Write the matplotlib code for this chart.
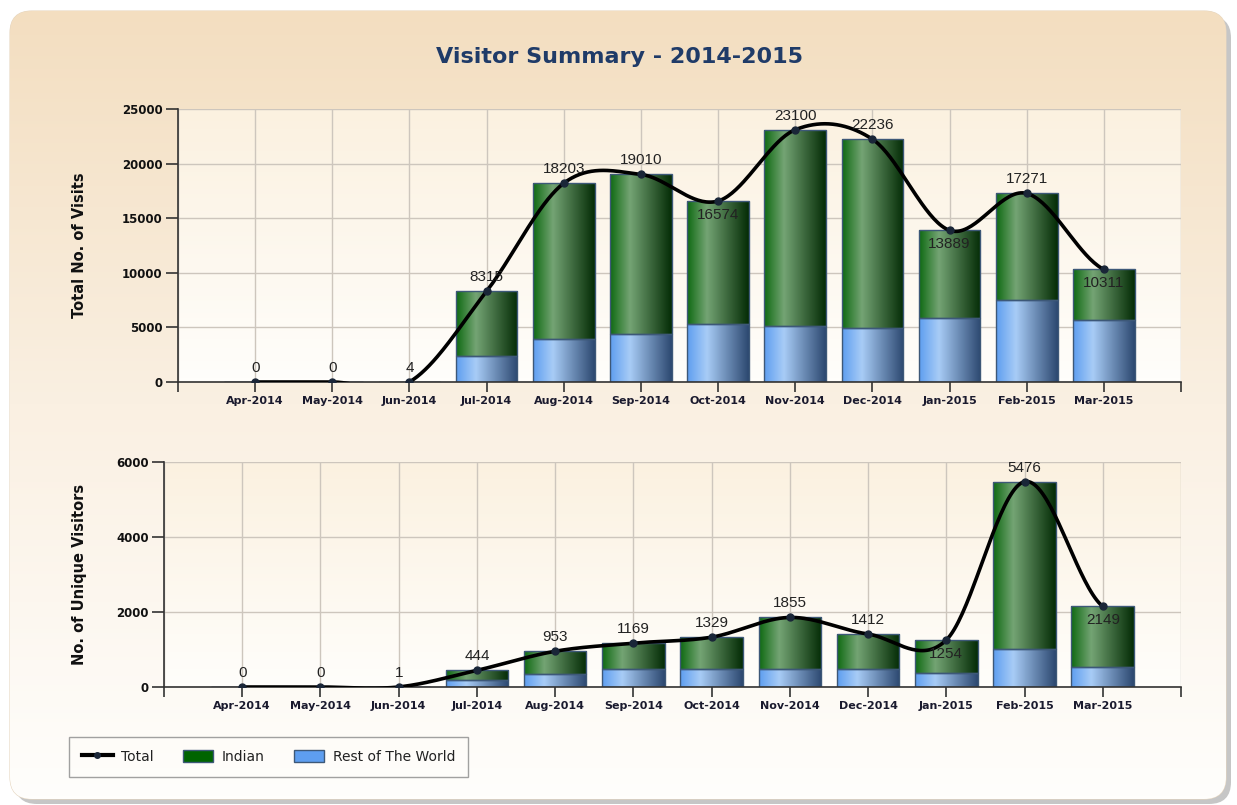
import numpy as np
import matplotlib
matplotlib.use('Agg')
import matplotlib.pyplot as plt
from matplotlib.patches import FancyBboxPatch, Patch
from matplotlib.lines import Line2D
from matplotlib.colors import LinearSegmentedColormap

months = ['Apr-2014', 'May-2014', 'Jun-2014', 'Jul-2014', 'Aug-2014', 'Sep-2014',
          'Oct-2014', 'Nov-2014', 'Dec-2014', 'Jan-2015', 'Feb-2015', 'Mar-2015']

# total visits per month
visits_total = [0, 0, 4, 8315, 18203, 19010, 16574, 23100, 22236, 13889, 17271, 10311]
visits_rest = [0, 0, 2, 2370, 3960, 4420, 5270, 5120, 4930, 5820, 7490, 5700]
visits_indian = [0, 0, 2, 5945, 14243, 14590, 11304, 17980, 17306, 8069, 9781, 4611]

# unique visitors per month
uniq_total = [0, 0, 1, 444, 953, 1169, 1329, 1855, 1412, 1254, 5476, 2149]
uniq_rest = [0, 0, 0, 180, 350, 470, 490, 490, 490, 385, 1020, 530]
uniq_indian = [0, 0, 1, 264, 603, 699, 839, 1365, 922, 869, 4456, 1619]

W, H = 1237, 805
fig = plt.figure(figsize=(W / 100, H / 100), dpi=100)
fig.patch.set_facecolor('white')

# background panel with rounded corners and a soft shadow
bg = fig.add_axes([0, 0, 1, 1], zorder=-10)
bg.axis('off')
shadow = FancyBboxPatch((15, 16), 1216, 788, boxstyle='round,pad=0,rounding_size=22',
                        fc='#b8b8b8', ec='none', alpha=0.8)
bg.add_patch(shadow)
panel = FancyBboxPatch((10, 11), 1216, 788, boxstyle='round,pad=0,rounding_size=22',
                       fc='#f6e6cf', ec='#e6d6c0', lw=0.8)
bg.add_patch(panel)
panel_cmap = LinearSegmentedColormap.from_list('panel', ['#f3dec0', '#faf0e2', '#fffefc'])
grad = np.linspace(0, 1, 256).reshape(-1, 1)
im = bg.imshow(grad, cmap=panel_cmap, extent=[10, 1226, 799, 11], aspect='auto', zorder=1)
im.set_clip_path(panel)
bg.set_xlim(0, W)
bg.set_ylim(H, 0)

fig.text(620 / W, 1 - 57 / H, 'Visitor Summary - 2014-2015', ha='center', va='center',
         fontsize=16, fontweight='bold', color='#1f3b68')

green_cmap = LinearSegmentedColormap.from_list(
    'g', [(0, '#0f6a12'), (0.32, '#74a474'), (1, '#042c06')])
blue_cmap = LinearSegmentedColormap.from_list(
    'b', [(0, '#5e9ef0'), (0.32, '#a8ccf6'), (1, '#2c4870')])
hgrad = np.linspace(0, 1, 128).reshape(1, -1)


def shade_bars(ax, bars, cmap):
    for b in bars:
        x0, y0 = b.get_x(), b.get_y()
        w, h = b.get_width(), b.get_height()
        if h <= 0:
            continue
        g = ax.imshow(hgrad, cmap=cmap, extent=[x0, x0 + w, y0, y0 + h],
                      aspect='auto', zorder=2.1, interpolation='bilinear')
        g.set_clip_path(b)


def catmull(ys, n=40):
    ys = np.asarray(ys, dtype=float)
    p = np.concatenate([[ys[0]], ys, [ys[-1]]])
    xs_out, ys_out = [], []
    t = np.linspace(0, 1, n)
    h00 = 2 * t**3 - 3 * t**2 + 1
    h10 = t**3 - 2 * t**2 + t
    h01 = -2 * t**3 + 3 * t**2
    h11 = t**3 - t**2
    for i in range(len(ys) - 1):
        p0, p1, p2, p3 = p[i], p[i + 1], p[i + 2], p[i + 3]
        m1 = (p2 - p0) / 2
        m2 = (p3 - p1) / 2
        xs_out.append(i + t)
        ys_out.append(h00 * p1 + h10 * m1 + h01 * p2 + h11 * m2)
    return np.concatenate(xs_out), np.concatenate(ys_out)


def draw_panel(ax, total, rest, indian, ymax, ystep, ylabel, label_x):
    x = np.arange(len(months))
    ax.set_axisbelow(True)
    face_cmap = LinearSegmentedColormap.from_list('f', ['#fbf1e0', '#fffefb'])
    ax.imshow(np.linspace(0, 1, 64).reshape(-1, 1), cmap=face_cmap,
              extent=[0, 1, 0, 1], transform=ax.transAxes, aspect='auto', zorder=0)

    b1 = ax.bar(x, rest, width=0.8, color='none', edgecolor='#3d5878', linewidth=1, zorder=2)
    b2 = ax.bar(x, indian, bottom=rest, width=0.8, color='none', edgecolor='#3d5878',
                linewidth=1, zorder=2)
    shade_bars(ax, b1, blue_cmap)
    shade_bars(ax, b2, green_cmap)
    for b in list(b1) + list(b2):
        b.set_zorder(2.2)

    sx, sy = catmull(total)
    ax.plot(sx, sy, color='black', lw=2.6, zorder=3, solid_capstyle='round')
    ax.plot(x, total, 'o', ms=5, color='#1a2638', zorder=3.5)

    for i, v in enumerate(total):
        prev = total[i - 1] if i > 0 else None
        nxt = total[i + 1] if i < len(total) - 1 else None
        below = prev is not None and v < prev and (nxt is None or v < nxt)
        ax.annotate(str(v), (i, v), xytext=(0, -5 if below else 5), textcoords='offset points',
                    ha='center', va='top' if below else 'bottom', fontsize=11,
                    family='Liberation Sans', color='#222222', zorder=4)

    ax.set_xlim(-1, 12)
    ax.set_ylim(0, ymax)
    ax.set_xticks(np.arange(-1, 13))
    ax.set_xticklabels([''] + months + [''])
    ax.set_yticks(np.arange(0, ymax + 1, ystep))
    ax.grid(True, color='#cdc6bd', lw=1)
    for s in ['top', 'right']:
        ax.spines[s].set_visible(False)
    for s in ['left', 'bottom']:
        ax.spines[s].set_color('#333333')
        ax.spines[s].set_linewidth(1.2)
    ax.tick_params(axis='x', length=7, width=1.2, color='#333333', pad=3)
    ax.tick_params(axis='y', length=9, width=1.2, color='#333333', pad=2)
    for lab in ax.get_xticklabels():
        lab.set_fontsize(8)
        lab.set_fontweight('bold')
        lab.set_color('#1a1a2e')
    for lab in ax.get_yticklabels():
        lab.set_fontsize(8.5)
        lab.set_fontweight('bold')
        lab.set_color('#111111')
    ax.set_ylabel(ylabel, fontsize=10.5, fontweight='bold', color='#111111')
    ax.yaxis.set_label_coords(label_x, 0.5)


ax1 = fig.add_axes([178 / W, 1 - 382 / H, (1181 - 178) / W, (382 - 109) / H])
draw_panel(ax1, visits_total, visits_rest, visits_indian, 25000, 5000,
           'Total No. of Visits', -0.091)

ax2 = fig.add_axes([164 / W, 1 - 687 / H, (1181 - 164) / W, (687 - 462) / H])
draw_panel(ax2, uniq_total, uniq_rest, uniq_indian, 6000, 2000,
           'No. of Unique Visitors', -0.076)

handles = [Line2D([], [], color='black', lw=3, marker='o', ms=4, mfc='#1a2638', mec='#1a2638'),
           Patch(fc='#006400', ec='#3d5878'),
           Patch(fc='#5e9ef0', ec='#3d5878')]
leg = fig.legend(handles, ['Total', 'Indian', 'Rest of The World'], loc='lower left',
                 bbox_to_anchor=(69 / W, 1 - 777 / H), ncol=3, fontsize=10,
                 frameon=True, fancybox=False, edgecolor='#8a8a8a', facecolor='none',
                 handlelength=2.2, handleheight=1.0, columnspacing=2.1, borderpad=0.95,
                 handletextpad=0.6, borderaxespad=0)
leg.get_frame().set_linewidth(1)
for t in leg.get_texts():
    t.set_color('#222222')

fig.savefig('out.png', dpi=100)
